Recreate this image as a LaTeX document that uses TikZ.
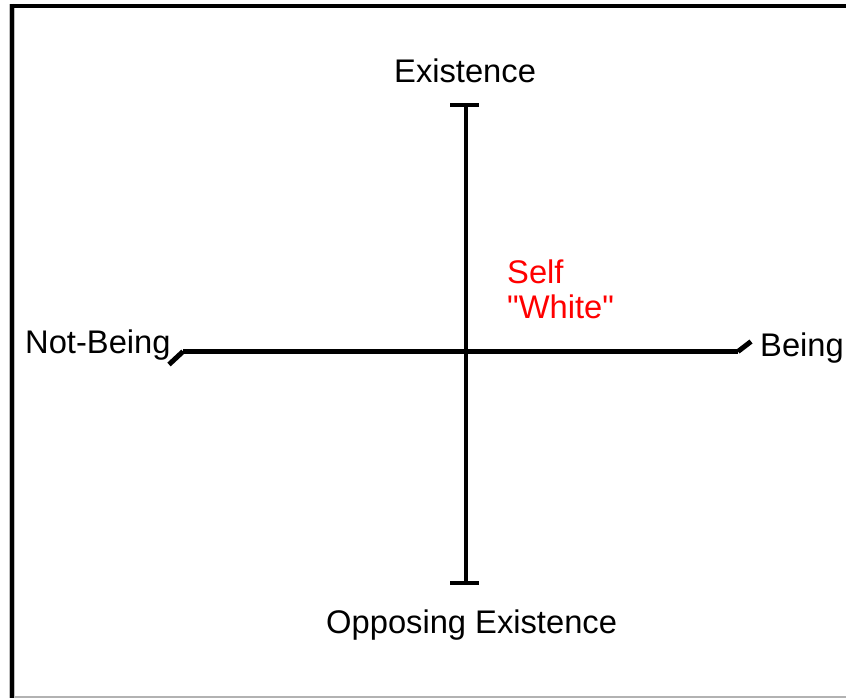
\documentclass[tikz,border=0pt]{standalone}
\usepackage{fontspec}
\setmainfont{Liberation Sans}
\font\rawsans="Liberation Sans" at 32.7pt
\begin{document}
\begin{tikzpicture}[x=1pt,y=-1pt,
  lbl/.style={inner sep=0pt,anchor=base west,font=\fontsize{32.7}{38}\selectfont},
  redlbl/.style={lbl,text=red},
  axis/.style={line width=4.3pt},
  frame/.style={line width=4.5pt},
  tick/.style={line width=5pt}]
\useasboundingbox (0,0) rectangle (846,698);
% frame
\draw[gray!60,line width=1.5pt] (12,697) -- (846,697);
\draw[gray!50,line width=6pt] (12,4) -- (12,698);
\draw[frame] (12,4) -- (12,698);
\draw[frame] (10,6) -- (846,6);
% coordinates
\coordinate (vt) at (466.3,104.7);
\coordinate (vb) at (466.3,583.3);
\coordinate (vtl) at (450,104.7);
\coordinate (vtr) at (478.5,104.7);
\coordinate (vbl) at (450,583.3);
\coordinate (vbr) at (478.5,583.3);
\coordinate (hl) at (183,351.5);
\coordinate (hr) at (738,351.5);
\coordinate (hld) at (169,364.5);
\coordinate (hru) at (751,341.5);
% axes
\draw[axis] (vt) -- (vb);
\draw[axis] (vtl) -- (vtr);
\draw[axis] (vbl) -- (vbr);
\draw[axis] (hl) -- (hr);
\draw[tick] (hl) -- (hld);
\draw[tick] (hr) -- (hru);
% labels
\node[lbl] (ex) at (394,83) {Existence};
\node[lbl] (opp) at (326,633) {Opposing Existence};
\node[lbl] (nb) at (25,353) {Not-Being};
\node[lbl] (be) at (760,356) {Being};
\node[redlbl] (self) at (507,283) {Self};
\node[redlbl] (white) at (507,318) {\rawsans"White"};
\end{tikzpicture}
\end{document}
